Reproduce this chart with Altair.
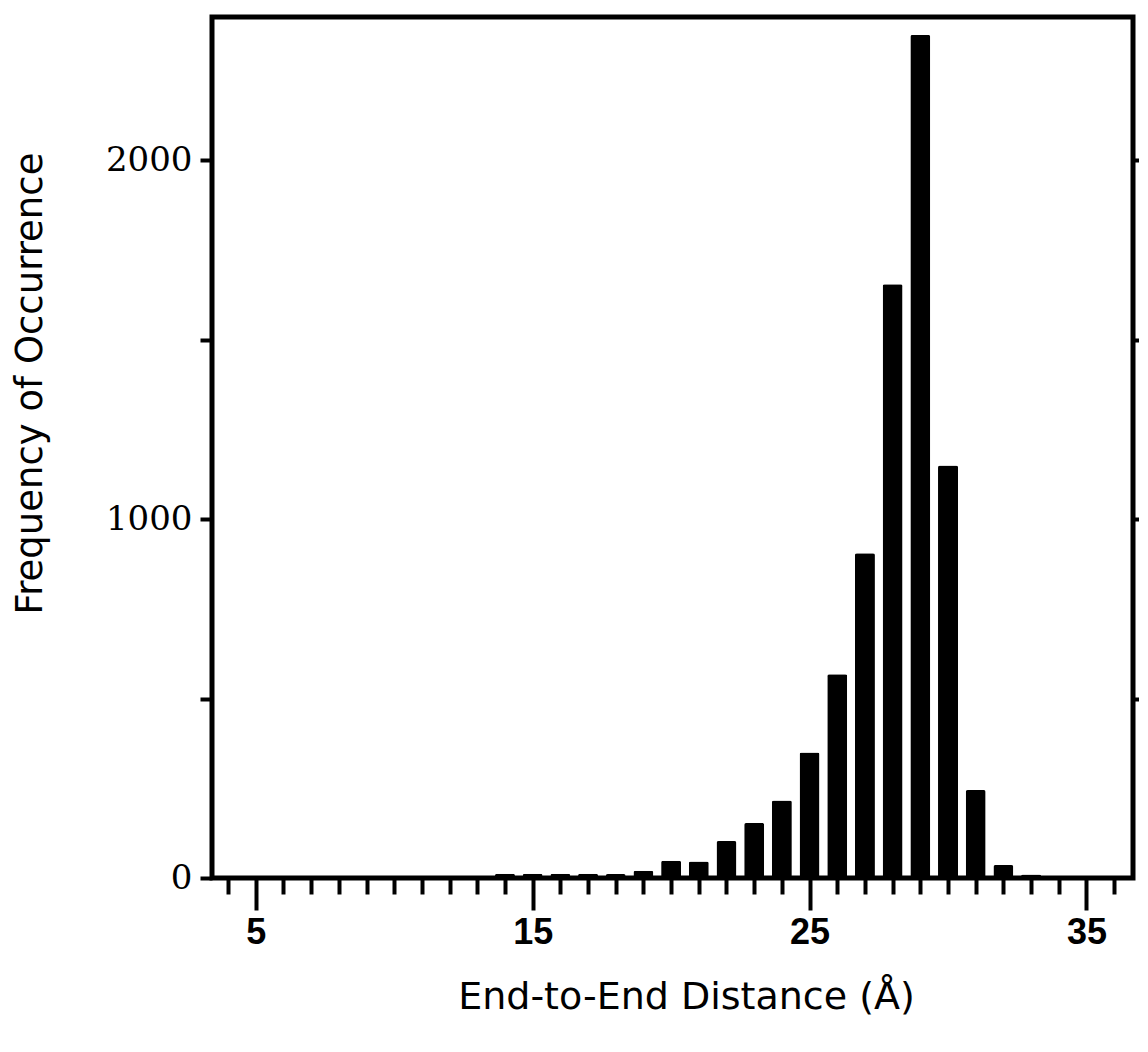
import altair as alt
import pandas as pd

# Histogram data
distance = list(range(14, 34))
frequency = [12, 12, 12, 12, 11, 20, 48, 46, 103, 153, 216, 350, 568, 905, 1655, 2350, 1150, 245, 36, 10]

x_tick_values = list(range(4, 37))
y_tick_values = [0, 500, 1000, 1500, 2000]
y_right_ticks = [500, 1000, 1500, 2000]

df = pd.DataFrame({"distance": distance, "frequency": frequency})

W, H = 921, 861
x_scale = alt.Scale(domain=[3.6, 36.5], nice=False, zero=False)
y_scale = alt.Scale(domain=[0, 2400], nice=False)

bars = alt.Chart(df).mark_bar(color="black", size=20, cornerRadius=2).encode(
    x=alt.X(
        "distance:Q",
        scale=x_scale,
        axis=alt.Axis(
            values=x_tick_values,
            title="End-to-End Distance (Å)",
            labelExpr="datum.value % 10 == 5 ? datum.label : ''",
            tickSize={"condition": {"test": "datum.value % 10 == 5", "value": 32}, "value": 16},
            tickWidth=4,
            tickColor="black",
            domain=False,
            grid=False,
            labelFont="Liberation Sans",
            labelFontWeight="bold",
            labelFontSize=36,
            labelColor="black",
            labelPadding=5,
            labelFlush=False,
            labelOverlap=False,
            titleFont="DejaVu Sans",
            titleFontWeight="normal",
            titleFontSize=38,
            titleColor="black",
            titleX=474,
            titleY=119,
            titleAlign="center",
            titleBaseline="middle",
        ),
    ),
    y=alt.Y(
        "frequency:Q",
        scale=y_scale,
        axis=alt.Axis(
            orient="left",
            values=y_tick_values,
            format="d",
            labelExpr="datum.value % 1000 == 0 ? datum.label : ''",
            tickSize=12,
            tickWidth=4,
            tickColor="black",
            domain=False,
            grid=False,
            labelFont="DejaVu Serif",
            labelFontSize=34,
            labelColor="black",
            labelPadding=8,
            labelFlush=False,
            labelOverlap=False,
            title="Frequency of Occurrence",
            titleFont="DejaVu Sans",
            titleFontWeight="normal",
            titleFontSize=37,
            titleColor="black",
            titleAngle=270,
            titleX=-182,
            titleY=366,
            titleAlign="center",
            titleBaseline="middle",
        ),
    ),
)

right_axis = alt.Chart(df).mark_bar(opacity=0).encode(
    x=alt.X("distance:Q", scale=x_scale, axis=None),
    y=alt.Y(
        "frequency:Q",
        scale=y_scale,
        axis=alt.Axis(
            orient="right",
            values=y_right_ticks,
            labels=False,
            title=None,
            tickSize=8,
            tickWidth=4,
            tickColor="black",
            domain=False,
            grid=False,
        ),
    ),
)

chart = (
    alt.layer(bars, right_axis)
    .resolve_axis(y="independent", x="independent")
    .properties(
        width=W,
        height=H,
        autosize=alt.AutoSizeParams(type="none"),
        padding={"left": 204, "top": 9, "right": 6, "bottom": 160},
        background="white",
    )
    .configure_view(stroke="black", strokeWidth=5)
)

chart.save("out.html", embed_options={"renderer": "svg", "actions": False})
